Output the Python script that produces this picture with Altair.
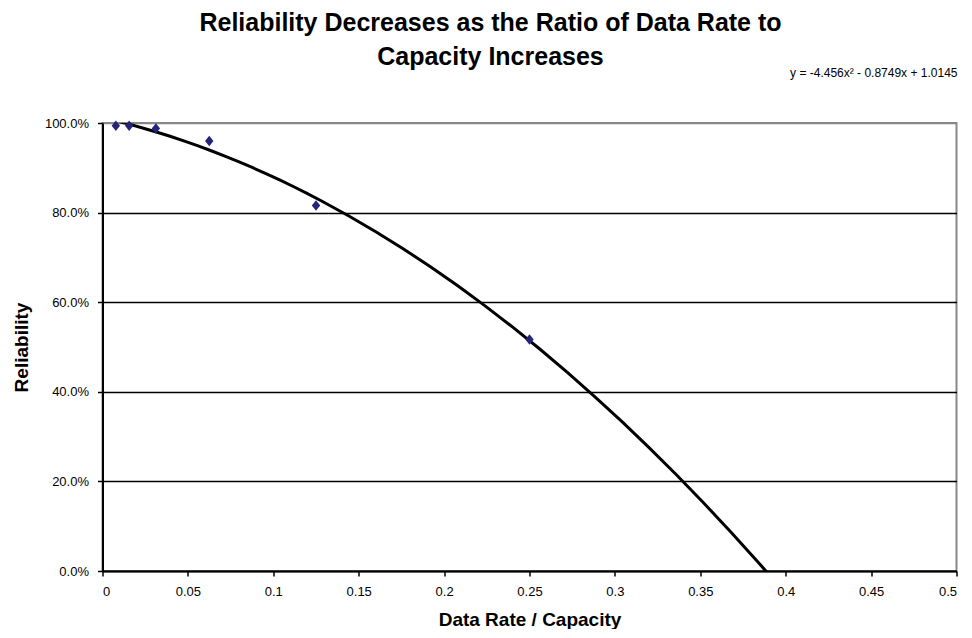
import altair as alt
import pandas as pd

# ---- data ----
ratio = [0.0078125, 0.015625, 0.03125, 0.0625, 0.125, 0.25]
reliability = [0.994, 0.994, 0.988, 0.960, 0.816, 0.517]
x_ticks = [0, 0.05, 0.1, 0.15, 0.2, 0.25, 0.3, 0.35, 0.4, 0.45, 0.5]
y_ticks = [0.0, 0.2, 0.4, 0.6, 0.8, 1.0]
title_lines = ["Reliability Decreases as the Ratio of Data Rate to", "Capacity Increases"]
equation = ["y = -4.456x² - 0.8749x + 1.0145"]

FONT = "Liberation Sans"
W, H = 854, 448

df = pd.DataFrame({"ratio": ratio, "reliability": reliability})
eq_df = pd.DataFrame({"eq": equation})
t1_df = pd.DataFrame({"t": title_lines[:1]})
t2_df = pd.DataFrame({"t": title_lines[1:]})

x_enc = alt.X(
    "ratio:Q",
    scale=alt.Scale(domain=[0, 0.5], nice=False, zero=False),
    axis=alt.Axis(
        values=x_ticks, format="~g", title="Data Rate / Capacity", grid=False,
        labelFontSize=13, labelPadding=9, titleFontSize=19, titlePadding=12,
    ),
)
y_enc = alt.Y(
    "reliability:Q",
    scale=alt.Scale(domain=[0, 1], nice=False),
    axis=alt.Axis(
        values=y_ticks, format=".1%", title="Reliability", grid=True,
        gridColor=alt.condition("datum.value >= 1", alt.value("#888888"), alt.value("black")),
        labelFontSize=13, labelPadding=9, titleFontSize=19, titlePadding=13,
    ),
)

trend = (
    alt.Chart(df)
    .transform_regression("ratio", "reliability", method="poly", order=2, extent=[0, 0.4])
    .mark_line(color="black", strokeWidth=3, clip=True)
    .encode(x=x_enc, y=y_enc)
)

points = (
    alt.Chart(df)
    .mark_point(
        shape="M0,-1L0.8,0L0,1L-0.8,0Z", filled=True, size=110,
        color="#24247A", opacity=1,
    )
    .encode(x=x_enc, y=y_enc)
)

eq_text = (
    alt.Chart(eq_df)
    .mark_text(align="right", baseline="alphabetic", font=FONT, fontSize=12, color="black")
    .encode(x=alt.value(W + 1), y=alt.value(-46), text="eq:N")
)

title_style = dict(align="center", baseline="alphabetic", font=FONT, fontSize=25,
                   fontWeight="bold", color="black")
title1 = (
    alt.Chart(t1_df).mark_text(**title_style)
    .encode(x=alt.value(388), y=alt.value(-92), text="t:N")
)
title2 = (
    alt.Chart(t2_df).mark_text(**title_style)
    .encode(x=alt.value(388), y=alt.value(-58), text="t:N")
)

chart = (
    alt.layer(trend, points, eq_text, title1, title2)
    .properties(
        width=W,
        height=H,
        autosize="none",
        padding={"left": 94.5, "top": 115, "right": 7, "bottom": 58},
    )
    .configure(font=FONT)
    .configure_view(stroke="#888888", strokeWidth=2)
    .configure_axis(
        domainColor="black", domainWidth=2, tickColor="black", tickWidth=1.5, tickSize=5,
        gridWidth=1.5, labelColor="black", titleColor="black", labelFont=FONT, titleFont=FONT,
        titleFontWeight="bold",
    )
)

chart.save("out.html", embed_options={"renderer": "svg", "actions": False})
